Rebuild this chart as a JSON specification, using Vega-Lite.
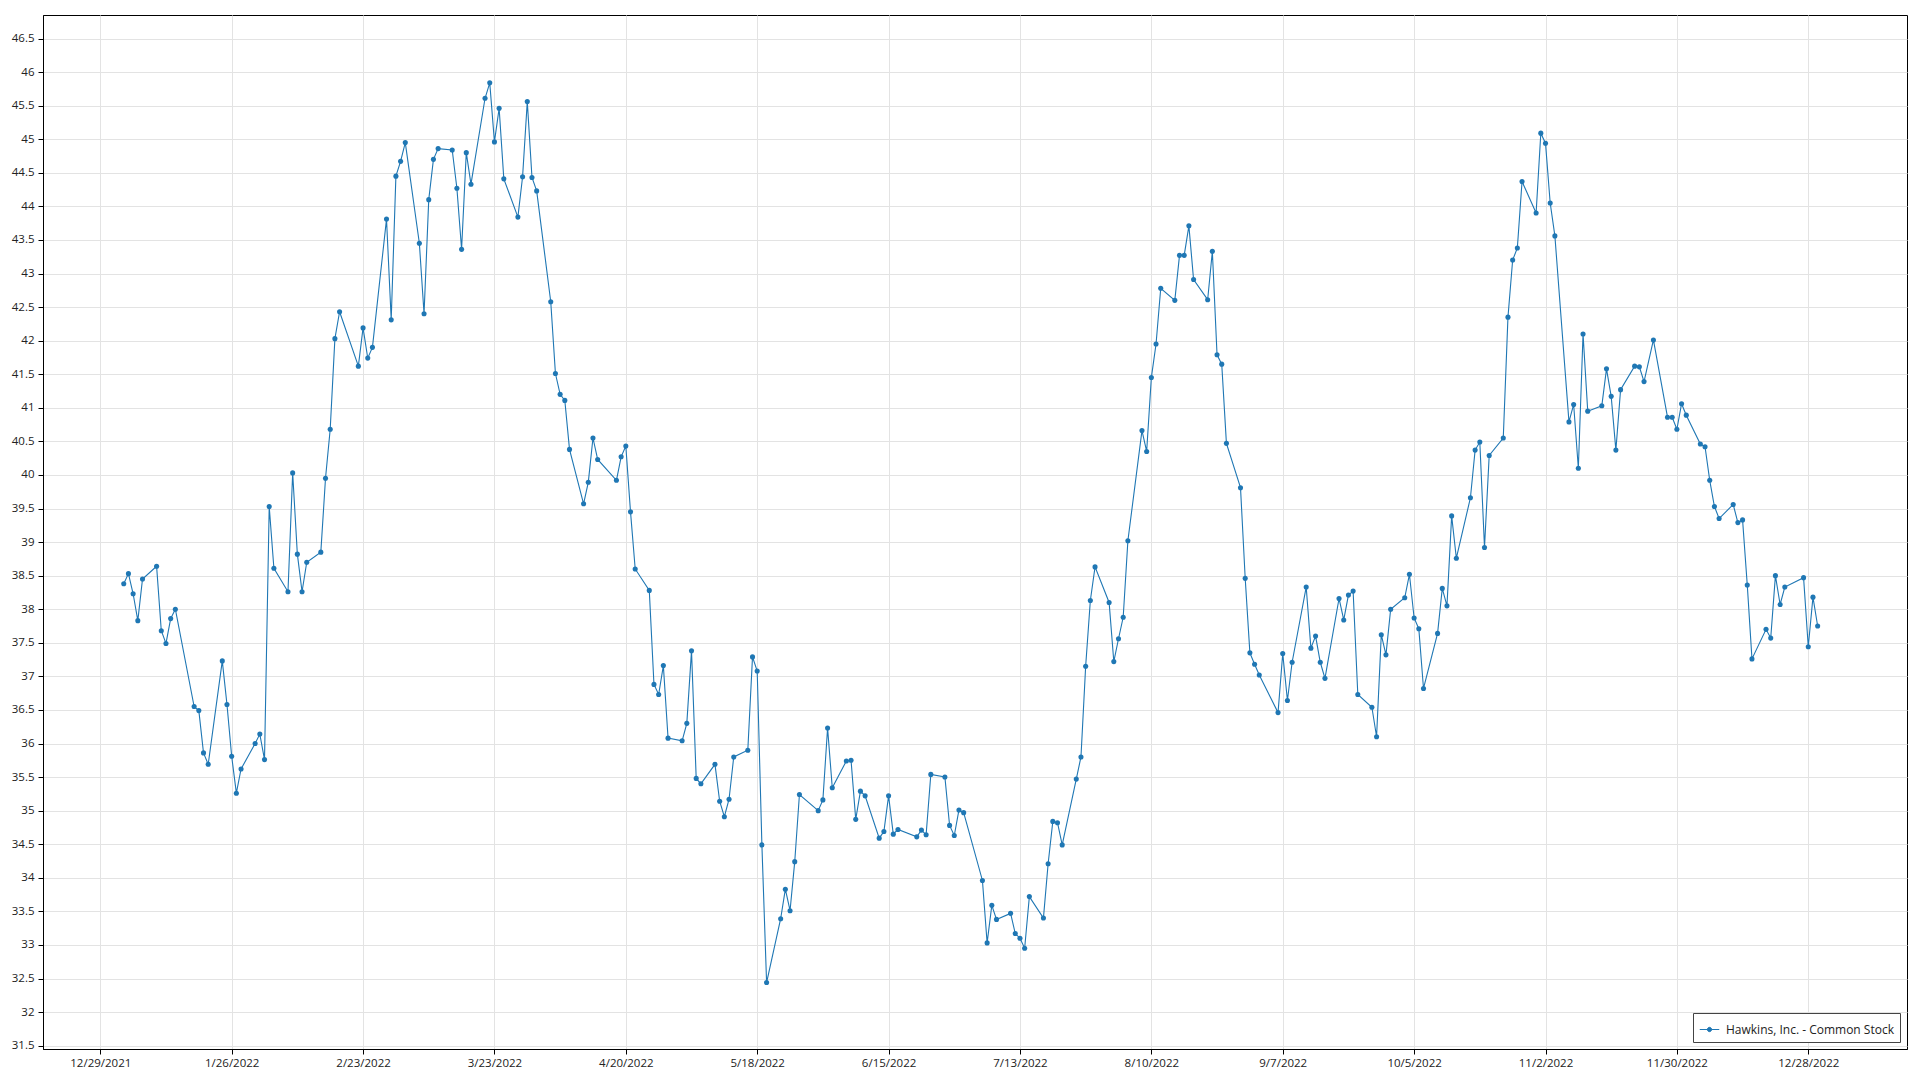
{
  "$schema": "https://vega.github.io/schema/vega-lite/v6.json",
  "width": 1864,
  "height": 1034,
  "autosize": "none",
  "padding": {"left": 43, "top": 15, "right": 13, "bottom": 31},
  "background": "white",
  "config": {
    "view": {"stroke": "black", "strokeWidth": 1},
    "font": "Open Sans",
    "axis": {
      "domainColor": "black",
      "tickColor": "black",
      "gridColor": "#e3e3e3",
      "gridWidth": 1,
      "labelColor": "#222222",
      "labelFont": "Open Sans",
      "labelFontSize": 11.5,
      "tickSize": 5,
      "title": null
    }
  },
  "data": {
    "values": [
      {"date": "2022-01-03", "close": 38.38}, {"date": "2022-01-04", "close": 38.53}, {"date": "2022-01-05", "close": 38.23},
      {"date": "2022-01-06", "close": 37.83}, {"date": "2022-01-07", "close": 38.45}, {"date": "2022-01-10", "close": 38.64},
      {"date": "2022-01-11", "close": 37.68}, {"date": "2022-01-12", "close": 37.49}, {"date": "2022-01-13", "close": 37.86},
      {"date": "2022-01-14", "close": 38.00}, {"date": "2022-01-18", "close": 36.55}, {"date": "2022-01-19", "close": 36.49},
      {"date": "2022-01-20", "close": 35.86}, {"date": "2022-01-21", "close": 35.69}, {"date": "2022-01-24", "close": 37.23},
      {"date": "2022-01-25", "close": 36.58}, {"date": "2022-01-26", "close": 35.81}, {"date": "2022-01-27", "close": 35.26},
      {"date": "2022-01-28", "close": 35.62}, {"date": "2022-01-31", "close": 36.00}, {"date": "2022-02-01", "close": 36.14},
      {"date": "2022-02-02", "close": 35.76}, {"date": "2022-02-03", "close": 39.53}, {"date": "2022-02-04", "close": 38.61},
      {"date": "2022-02-07", "close": 38.26}, {"date": "2022-02-08", "close": 40.03}, {"date": "2022-02-09", "close": 38.82},
      {"date": "2022-02-10", "close": 38.26}, {"date": "2022-02-11", "close": 38.70}, {"date": "2022-02-14", "close": 38.85},
      {"date": "2022-02-15", "close": 39.95}, {"date": "2022-02-16", "close": 40.68}, {"date": "2022-02-17", "close": 42.03},
      {"date": "2022-02-18", "close": 42.43}, {"date": "2022-02-22", "close": 41.62}, {"date": "2022-02-23", "close": 42.19},
      {"date": "2022-02-24", "close": 41.74}, {"date": "2022-02-25", "close": 41.90}, {"date": "2022-02-28", "close": 43.81},
      {"date": "2022-03-01", "close": 42.31}, {"date": "2022-03-02", "close": 44.45}, {"date": "2022-03-03", "close": 44.67},
      {"date": "2022-03-04", "close": 44.95}, {"date": "2022-03-07", "close": 43.45}, {"date": "2022-03-08", "close": 42.40},
      {"date": "2022-03-09", "close": 44.10}, {"date": "2022-03-10", "close": 44.70}, {"date": "2022-03-11", "close": 44.86},
      {"date": "2022-03-14", "close": 44.84}, {"date": "2022-03-15", "close": 44.27}, {"date": "2022-03-16", "close": 43.36},
      {"date": "2022-03-17", "close": 44.80}, {"date": "2022-03-18", "close": 44.33}, {"date": "2022-03-21", "close": 45.61},
      {"date": "2022-03-22", "close": 45.84}, {"date": "2022-03-23", "close": 44.96}, {"date": "2022-03-24", "close": 45.46},
      {"date": "2022-03-25", "close": 44.41}, {"date": "2022-03-28", "close": 43.84}, {"date": "2022-03-29", "close": 44.44},
      {"date": "2022-03-30", "close": 45.56}, {"date": "2022-03-31", "close": 44.43}, {"date": "2022-04-01", "close": 44.23},
      {"date": "2022-04-04", "close": 42.58}, {"date": "2022-04-05", "close": 41.51}, {"date": "2022-04-06", "close": 41.20},
      {"date": "2022-04-07", "close": 41.11}, {"date": "2022-04-08", "close": 40.38}, {"date": "2022-04-11", "close": 39.57},
      {"date": "2022-04-12", "close": 39.89}, {"date": "2022-04-13", "close": 40.55}, {"date": "2022-04-14", "close": 40.23},
      {"date": "2022-04-18", "close": 39.92}, {"date": "2022-04-19", "close": 40.27}, {"date": "2022-04-20", "close": 40.43},
      {"date": "2022-04-21", "close": 39.45}, {"date": "2022-04-22", "close": 38.60}, {"date": "2022-04-25", "close": 38.28},
      {"date": "2022-04-26", "close": 36.88}, {"date": "2022-04-27", "close": 36.73}, {"date": "2022-04-28", "close": 37.16},
      {"date": "2022-04-29", "close": 36.08}, {"date": "2022-05-02", "close": 36.04}, {"date": "2022-05-03", "close": 36.30},
      {"date": "2022-05-04", "close": 37.38}, {"date": "2022-05-05", "close": 35.48}, {"date": "2022-05-06", "close": 35.40},
      {"date": "2022-05-09", "close": 35.69}, {"date": "2022-05-10", "close": 35.14}, {"date": "2022-05-11", "close": 34.91},
      {"date": "2022-05-12", "close": 35.17}, {"date": "2022-05-13", "close": 35.80}, {"date": "2022-05-16", "close": 35.90},
      {"date": "2022-05-17", "close": 37.29}, {"date": "2022-05-18", "close": 37.08}, {"date": "2022-05-19", "close": 34.49},
      {"date": "2022-05-20", "close": 32.44}, {"date": "2022-05-23", "close": 33.39}, {"date": "2022-05-24", "close": 33.83},
      {"date": "2022-05-25", "close": 33.51}, {"date": "2022-05-26", "close": 34.24}, {"date": "2022-05-27", "close": 35.24},
      {"date": "2022-05-31", "close": 35.00}, {"date": "2022-06-01", "close": 35.16}, {"date": "2022-06-02", "close": 36.23},
      {"date": "2022-06-03", "close": 35.34}, {"date": "2022-06-06", "close": 35.74}, {"date": "2022-06-07", "close": 35.75},
      {"date": "2022-06-08", "close": 34.87}, {"date": "2022-06-09", "close": 35.29}, {"date": "2022-06-10", "close": 35.22},
      {"date": "2022-06-13", "close": 34.59}, {"date": "2022-06-14", "close": 34.69}, {"date": "2022-06-15", "close": 35.22},
      {"date": "2022-06-16", "close": 34.65}, {"date": "2022-06-17", "close": 34.72}, {"date": "2022-06-21", "close": 34.61},
      {"date": "2022-06-22", "close": 34.71}, {"date": "2022-06-23", "close": 34.64}, {"date": "2022-06-24", "close": 35.54},
      {"date": "2022-06-27", "close": 35.50}, {"date": "2022-06-28", "close": 34.78}, {"date": "2022-06-29", "close": 34.63},
      {"date": "2022-06-30", "close": 35.01}, {"date": "2022-07-01", "close": 34.97}, {"date": "2022-07-05", "close": 33.96},
      {"date": "2022-07-06", "close": 33.03}, {"date": "2022-07-07", "close": 33.59}, {"date": "2022-07-08", "close": 33.38},
      {"date": "2022-07-11", "close": 33.47}, {"date": "2022-07-12", "close": 33.17}, {"date": "2022-07-13", "close": 33.10},
      {"date": "2022-07-14", "close": 32.95}, {"date": "2022-07-15", "close": 33.72}, {"date": "2022-07-18", "close": 33.40},
      {"date": "2022-07-19", "close": 34.21}, {"date": "2022-07-20", "close": 34.84}, {"date": "2022-07-21", "close": 34.82},
      {"date": "2022-07-22", "close": 34.49}, {"date": "2022-07-25", "close": 35.47}, {"date": "2022-07-26", "close": 35.80},
      {"date": "2022-07-27", "close": 37.15}, {"date": "2022-07-28", "close": 38.13}, {"date": "2022-07-29", "close": 38.63},
      {"date": "2022-08-01", "close": 38.10}, {"date": "2022-08-02", "close": 37.22}, {"date": "2022-08-03", "close": 37.56},
      {"date": "2022-08-04", "close": 37.88}, {"date": "2022-08-05", "close": 39.02}, {"date": "2022-08-08", "close": 40.66},
      {"date": "2022-08-09", "close": 40.35}, {"date": "2022-08-10", "close": 41.45}, {"date": "2022-08-11", "close": 41.95},
      {"date": "2022-08-12", "close": 42.78}, {"date": "2022-08-15", "close": 42.60}, {"date": "2022-08-16", "close": 43.27},
      {"date": "2022-08-17", "close": 43.27}, {"date": "2022-08-18", "close": 43.71}, {"date": "2022-08-19", "close": 42.91},
      {"date": "2022-08-22", "close": 42.61}, {"date": "2022-08-23", "close": 43.33}, {"date": "2022-08-24", "close": 41.79},
      {"date": "2022-08-25", "close": 41.65}, {"date": "2022-08-26", "close": 40.47}, {"date": "2022-08-29", "close": 39.81},
      {"date": "2022-08-30", "close": 38.46}, {"date": "2022-08-31", "close": 37.35}, {"date": "2022-09-01", "close": 37.18},
      {"date": "2022-09-02", "close": 37.02}, {"date": "2022-09-06", "close": 36.46}, {"date": "2022-09-07", "close": 37.34},
      {"date": "2022-09-08", "close": 36.64}, {"date": "2022-09-09", "close": 37.21}, {"date": "2022-09-12", "close": 38.33},
      {"date": "2022-09-13", "close": 37.42}, {"date": "2022-09-14", "close": 37.60}, {"date": "2022-09-15", "close": 37.21},
      {"date": "2022-09-16", "close": 36.97}, {"date": "2022-09-19", "close": 38.16}, {"date": "2022-09-20", "close": 37.84},
      {"date": "2022-09-21", "close": 38.21}, {"date": "2022-09-22", "close": 38.27}, {"date": "2022-09-23", "close": 36.73},
      {"date": "2022-09-26", "close": 36.54}, {"date": "2022-09-27", "close": 36.10}, {"date": "2022-09-28", "close": 37.62},
      {"date": "2022-09-29", "close": 37.32}, {"date": "2022-09-30", "close": 38.00}, {"date": "2022-10-03", "close": 38.17},
      {"date": "2022-10-04", "close": 38.52}, {"date": "2022-10-05", "close": 37.87}, {"date": "2022-10-06", "close": 37.71},
      {"date": "2022-10-07", "close": 36.82}, {"date": "2022-10-10", "close": 37.64}, {"date": "2022-10-11", "close": 38.31},
      {"date": "2022-10-12", "close": 38.05}, {"date": "2022-10-13", "close": 39.39}, {"date": "2022-10-14", "close": 38.76},
      {"date": "2022-10-17", "close": 39.66}, {"date": "2022-10-18", "close": 40.37}, {"date": "2022-10-19", "close": 40.49},
      {"date": "2022-10-20", "close": 38.92}, {"date": "2022-10-21", "close": 40.29}, {"date": "2022-10-24", "close": 40.55},
      {"date": "2022-10-25", "close": 42.35}, {"date": "2022-10-26", "close": 43.20}, {"date": "2022-10-27", "close": 43.38},
      {"date": "2022-10-28", "close": 44.37}, {"date": "2022-10-31", "close": 43.90}, {"date": "2022-11-01", "close": 45.09},
      {"date": "2022-11-02", "close": 44.94}, {"date": "2022-11-03", "close": 44.05}, {"date": "2022-11-04", "close": 43.56},
      {"date": "2022-11-07", "close": 40.79}, {"date": "2022-11-08", "close": 41.05}, {"date": "2022-11-09", "close": 40.10},
      {"date": "2022-11-10", "close": 42.10}, {"date": "2022-11-11", "close": 40.95}, {"date": "2022-11-14", "close": 41.03},
      {"date": "2022-11-15", "close": 41.58}, {"date": "2022-11-16", "close": 41.17}, {"date": "2022-11-17", "close": 40.37},
      {"date": "2022-11-18", "close": 41.27}, {"date": "2022-11-21", "close": 41.62}, {"date": "2022-11-22", "close": 41.61},
      {"date": "2022-11-23", "close": 41.39}, {"date": "2022-11-25", "close": 42.01}, {"date": "2022-11-28", "close": 40.86},
      {"date": "2022-11-29", "close": 40.86}, {"date": "2022-11-30", "close": 40.68}, {"date": "2022-12-01", "close": 41.06},
      {"date": "2022-12-02", "close": 40.89}, {"date": "2022-12-05", "close": 40.46}, {"date": "2022-12-06", "close": 40.42},
      {"date": "2022-12-07", "close": 39.92}, {"date": "2022-12-08", "close": 39.53}, {"date": "2022-12-09", "close": 39.35},
      {"date": "2022-12-12", "close": 39.56}, {"date": "2022-12-13", "close": 39.29}, {"date": "2022-12-14", "close": 39.33},
      {"date": "2022-12-15", "close": 38.36}, {"date": "2022-12-16", "close": 37.26}, {"date": "2022-12-19", "close": 37.70},
      {"date": "2022-12-20", "close": 37.57}, {"date": "2022-12-21", "close": 38.50}, {"date": "2022-12-22", "close": 38.07},
      {"date": "2022-12-23", "close": 38.33}, {"date": "2022-12-27", "close": 38.47}, {"date": "2022-12-28", "close": 37.44},
      {"date": "2022-12-29", "close": 38.18}, {"date": "2022-12-30", "close": 37.75}
    ]
  },
  "encoding": {
    "x": {
      "field": "date",
      "type": "temporal",
      "scale": {
        "type": "utc",
        "domain": [
          {"year": 2021, "month": 12, "date": 16, "hours": 19, "utc": true},
          {"year": 2023, "month": 1, "date": 18, "hours": 1, "utc": true}
        ]
      },
      "axis": {
        "format": "%-m/%-d/%Y",
        "labelPadding": 3,
        "labelFlush": false,
        "labelOverlap": false,
        "values": [
          {"year": 2021, "month": 12, "date": 29, "utc": true},
          {"year": 2022, "month": 1, "date": 26, "utc": true},
          {"year": 2022, "month": 2, "date": 23, "utc": true},
          {"year": 2022, "month": 3, "date": 23, "utc": true},
          {"year": 2022, "month": 4, "date": 20, "utc": true},
          {"year": 2022, "month": 5, "date": 18, "utc": true},
          {"year": 2022, "month": 6, "date": 15, "utc": true},
          {"year": 2022, "month": 7, "date": 13, "utc": true},
          {"year": 2022, "month": 8, "date": 10, "utc": true},
          {"year": 2022, "month": 9, "date": 7, "utc": true},
          {"year": 2022, "month": 10, "date": 5, "utc": true},
          {"year": 2022, "month": 11, "date": 2, "utc": true},
          {"year": 2022, "month": 11, "date": 30, "utc": true},
          {"year": 2022, "month": 12, "date": 28, "utc": true}
        ]
      }
    },
    "y": {
      "field": "close",
      "type": "quantitative",
      "scale": {"domain": [31.45, 46.85], "nice": false, "zero": false},
      "axis": {
        "format": "~g",
        "labelPadding": 4,
        "labelOverlap": false,
        "values": [31.5, 32, 32.5, 33, 33.5, 34, 34.5, 35, 35.5, 36, 36.5, 37, 37.5, 38, 38.5, 39, 39.5, 40, 40.5, 41, 41.5, 42, 42.5, 43, 43.5, 44, 44.5, 45, 45.5, 46, 46.5]
      }
    },
    "color": {
      "datum": "Hawkins, Inc. - Common Stock",
      "type": "nominal",
      "scale": {"range": ["#1f77b4"]},
      "legend": {
        "title": null,
        "orient": "bottom-right",
        "offset": 7,
        "padding": 6,
        "fillColor": "white",
        "strokeColor": "#444444",
        "cornerRadius": 0,
        "labelFont": "Open Sans",
        "labelFontSize": 12,
        "labelColor": "#222222",
        "labelOffset": 6,
        "labelLimit": 400,
        "symbolType": "M-1,0H1M-0.22,0A0.22,0.22,0,1,0,0.22,0A0.22,0.22,0,1,0,-0.22,0Z",
        "symbolSize": 380,
        "encode": {
          "symbols": {
            "update": {
              "fill": {"value": "#1f77b4"},
              "stroke": {"value": "#1f77b4"},
              "strokeWidth": {"value": 1},
              "opacity": {"value": 1}
            }
          }
        }
      }
    }
  },
  "layer": [
    {"mark": {"type": "line", "strokeWidth": 1.1}},
    {"mark": {"type": "point", "filled": true, "size": 26, "opacity": 1}}
  ]
}
